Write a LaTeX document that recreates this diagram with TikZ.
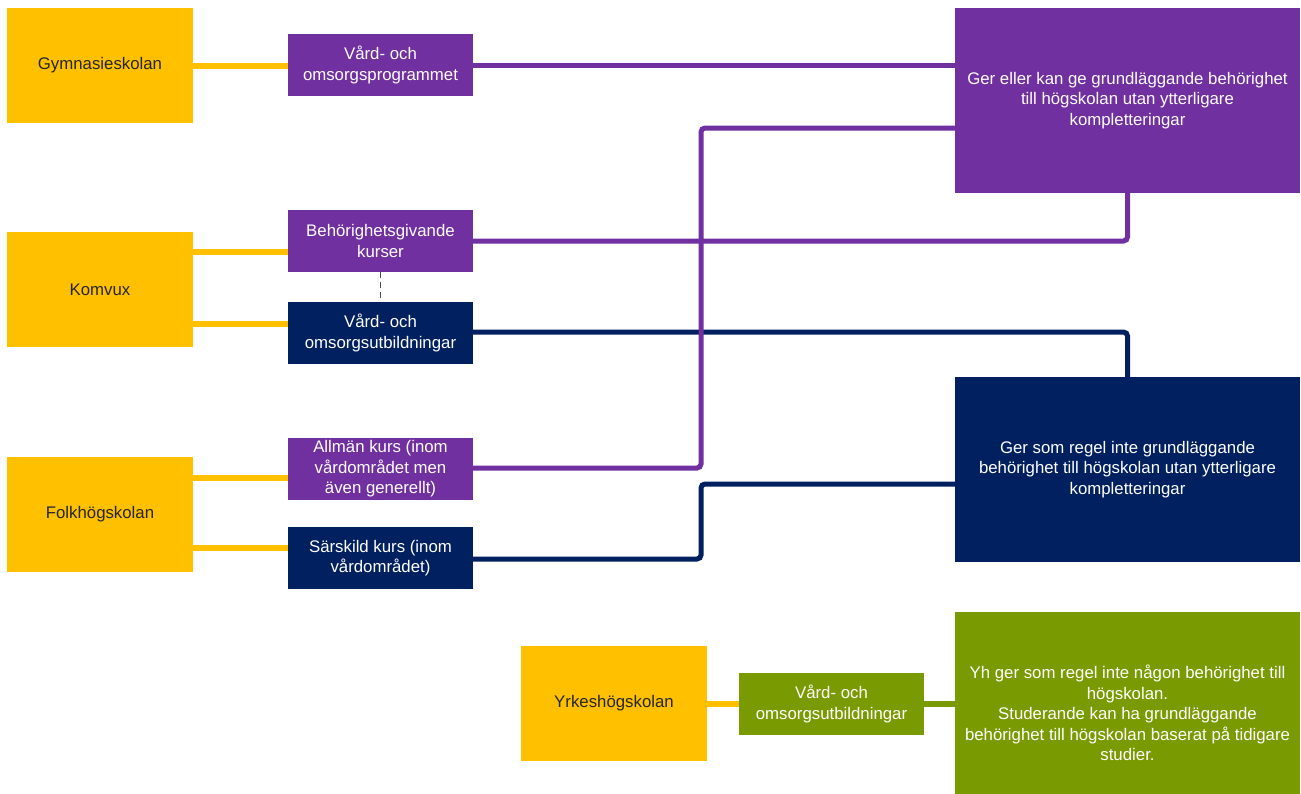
\documentclass[tikz,border=0pt]{standalone}
\usepackage{fontspec}
\setmainfont{Liberation Sans}
\definecolor{cyel}{HTML}{FFC000}
\definecolor{cpur}{HTML}{7030A0}
\definecolor{cnav}{HTML}{002060}
\definecolor{cgrn}{HTML}{7A9A01}
\definecolor{ctxt}{HTML}{262626}
\tikzset{
  base/.style={inner sep=0pt, outer sep=0pt, align=center, font=\fontsize{16.8}{20.5}\selectfont},
  ybox/.style={base, fill=cyel, text=ctxt, minimum width=186pt, minimum height=115pt},
  sbox/.style={base, fill=#1, text=white, minimum width=185pt, minimum height=62pt},
  bbox/.style={base, fill=#1, text=white, minimum width=345pt, minimum height=185pt},
  yl/.style={cyel, line width=6pt},
  pl/.style={cpur, line width=5pt, rounded corners=4pt},
  nl/.style={cnav, line width=5pt, rounded corners=4pt},
  gl/.style={cgrn, line width=6pt},
}
\begin{document}
\begin{tikzpicture}[x=1pt, y=-1pt]
\clip (0,0) rectangle (1301,793);
\fill[white] (0,0) rectangle (1301,793);
% left yellow boxes
\node[ybox] (gym) at (100,65.5) {Gymnasieskolan};
\node[ybox] (kom) at (100,289.5) {Komvux};
\node[ybox] (folk) at (100,514.5) {Folkhögskolan};
\node[ybox] (yh) at (614,703.5) {Yrkeshögskolan};
% small boxes
\node[sbox=cpur] (vop) at (380.5,65) {Vård- och\\omsorgsprogrammet};
\node[sbox=cpur] (beh) at (380.5,241) {Behörighetsgivande\\kurser};
\node[sbox=cnav] (vou) at (380.5,333) {Vård- och\\omsorgsutbildningar};
\node[sbox=cpur] (allm) at (380.5,469) {Allmän kurs (inom\\vårdområdet men\\även generellt)};
\node[sbox=cnav] (sar) at (380.5,558) {Särskild kurs (inom\\vårdområdet)};
\node[sbox=cgrn] (gsm) at (831.5,704) {Vård- och\\omsorgsutbildningar};
% big boxes
\node[bbox=cpur] (pbig) at (1127.5,100.5) {Ger eller kan ge grundläggande behörighet\\till högskolan utan ytterligare\\kompletteringar};
\node[bbox=cnav] (nbig) at (1127.5,469.5) {Ger som regel inte grundläggande\\behörighet till högskolan utan ytterligare\\kompletteringar};
\node[base, fill=cgrn, text=white, minimum width=345pt, minimum height=202pt] (gbig) at (1127.5,713) {Yh ger som regel inte någon behörighet till\\högskolan.\\Studerande kan ha grundläggande\\behörighet till högskolan baserat på tidigare\\studier.};
% junction coordinates
\coordinate (pj) at (701,128);
\coordinate (nj) at (701,484);
% yellow connectors
\draw[yl] (gym.east) -- (gym.east -| vop.west);
\draw[yl] ([yshift=37.5pt]kom.east) -- ([yshift=-11pt]beh.west);
\draw[yl] ([yshift=-34.5pt]kom.east) -- ([yshift=9pt]vou.west);
\draw[yl] ([yshift=36.5pt]folk.east) -- ([yshift=-9pt]allm.west);
\draw[yl] ([yshift=-33.5pt]folk.east) -- ([yshift=10pt]sar.west);
\draw[yl] (yh.east) -- (yh.east -| gsm.west);
% navy connectors
\draw[nl] ([yshift=1pt]vou.east) -| (nbig.north);
\draw[nl] ([yshift=-1pt]sar.east) -| (nj) -- (nj -| nbig.west);
% purple connectors
\draw[pl] (vop.east) -- (vop.east -| pbig.west);
\draw[pl] (beh.east) -| (pbig.south);
\draw[pl] ([yshift=1pt]allm.east) -| (pj) -- (pj -| pbig.west);
% green connector
\draw[gl] (gsm.east) -- (gsm.east -| gbig.west);
% dashed link
\draw[gray!60!black, line width=1.3pt, dash pattern=on 6pt off 4pt] (beh.south) -- (vou.north);
\end{tikzpicture}
\end{document}
